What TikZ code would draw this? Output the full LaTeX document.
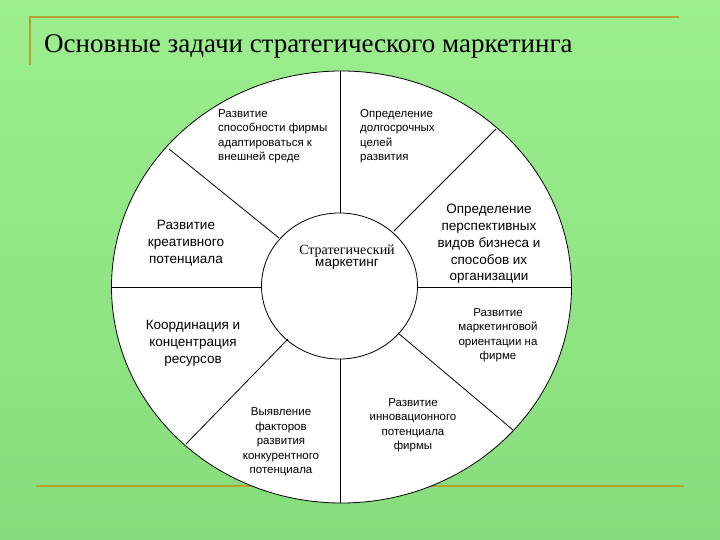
\documentclass[tikz,border=0pt]{standalone}
\usepackage{fontspec}
\usetikzlibrary{shapes.geometric}
\setmainfont{Liberation Serif}
\newfontfamily\lsans{Liberation Sans}
\begin{document}
\begin{tikzpicture}[x=1pt,y=-1pt,
  small/.style={font=\lsans\fontsize{11.5}{14.5}\selectfont,align=left,inner sep=0pt},
  smallc/.style={font=\lsans\fontsize{11.5}{14.5}\selectfont,align=center,inner sep=0pt},
  big/.style={font=\lsans\fontsize{13.5}{16.8}\selectfont,align=center,inner sep=0pt},
  wl/.style={line width=0.8pt,black}]
\definecolor{bgA}{HTML}{9CEE8E}\definecolor{bgB}{HTML}{86DC7C}
\definecolor{gold}{HTML}{B8A030}
\shade[top color=bgA,bottom color=bgB] (0,0) rectangle (720,540);
\useasboundingbox (0,0) rectangle (720,540);
\draw[gold,line width=1.5pt] (30,65) -- (30,17) -- (679,17);
\draw[gold,line width=2pt] (36,486) -- (684,486);
\node[anchor=base west,inner sep=0pt,font=\fontsize{27}{29}\selectfont] (title) at (44,53) {Основные задачи стратегического маркетинга};
\node[draw,wl,fill=white,ellipse,minimum width=460,minimum height=432,inner sep=0pt] (outer) at (341.5,287) {};
\node[draw,wl,fill=white,ellipse,minimum width=156,minimum height=146,inner sep=0pt] (inner) at (339.5,286) {};
\draw[wl] (111.5,287) -- (262,287);
\draw[wl] (417,287) -- (571.5,287);
\draw[wl] (340,71) -- (340,213);
\draw[wl] (340,359) -- (340,503);
\draw[wl] (169,149) -- (279,238);
\draw[wl] (496,129) -- (394,231);
\draw[wl] (398,333) -- (513,430);
\draw[wl] (288,339) -- (186,444);
\node[small,anchor=north west] (t1) at (218,109) {Развитие\\способности фирмы\\адаптироваться к\\внешней среде};
\node[small,anchor=north west] (t2) at (360,109) {Определение\\долгосрочных\\целей\\развития};
\node[big] (t3) at (186,243) {Развитие\\креативного\\потенциала};
\node[big] (t4) at (489,244) {Определение\\перспективных\\видов бизнеса и\\способов их\\организации};
\node[inner sep=0pt,align=center] (c) at (347,257) {{\fontsize{14}{16}\selectfont Стратегический}\\{\lsans\fontsize{13.5}{16}\selectfont маркетинг}};
\node[big] (t5) at (193,343) {Координация и\\концентрация\\ресурсов};
\node[smallc] (t6) at (498,335) {Развитие\\маркетинговой\\ориентации на\\фирме};
\node[smallc] (t7) at (413,425) {Развитие\\инновационного\\потенциала\\фирмы};
\node[smallc] (t8) at (281,442) {Выявление\\факторов\\развития\\конкурентного\\потенциала};
\end{tikzpicture}
\end{document}
